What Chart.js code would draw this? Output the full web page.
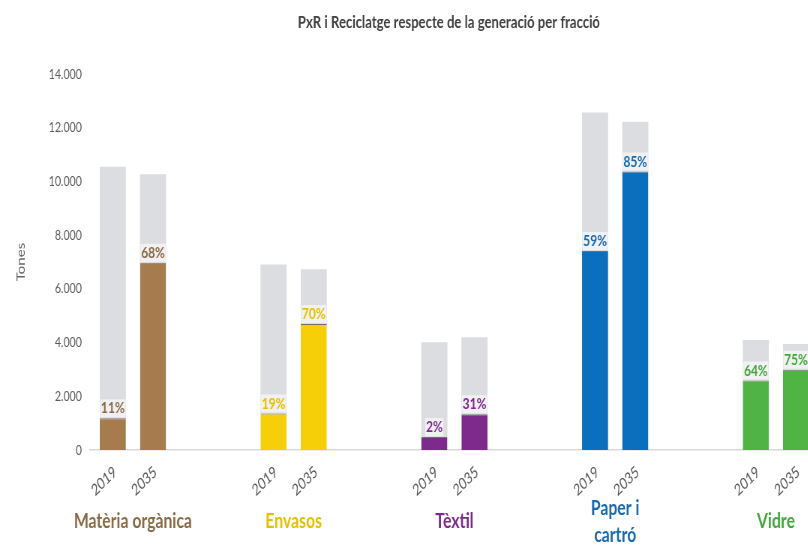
<!DOCTYPE html>
<html>
<head>
<meta charset="utf-8">
<script src="https://cdn.jsdelivr.net/npm/chart.js@4.4.1/dist/chart.umd.min.js"></script>
<style>
  html, body { margin: 0; padding: 0; background: #ffffff; overflow: hidden; width: 808px; height: 550px; }
  /* el gràfic original està comprimit horitzontalment */
  #wrap { width: 1077px; height: 550px; transform: scaleX(0.75); transform-origin: 0 0; }
</style>
</head>
<body>
<div id="wrap"><canvas id="pxrChart" width="1077" height="550"></canvas></div>
<script>
// dades llegides del gràfic (tones)
const categories = ["Matèria orgànica", "Envasos", "Tèxtil", ["Paper i", "cartró"], "Vidre"]
const years = ["2019", "2035"]
const generacio2019 = [10550, 6910, 4010, 12570, 4100]
const reciclatge2019 = [1180, 1360, 480, 7410, 2590]
const generacio2035 = [10270, 6730, 4200, 12220, 3950]
const reciclatge2035 = [6970, 4690, 1330, 10370, 2990]
const pct2019 = [11, 19, 2, 59, 64]
const pct2035 = [68, 70, 31, 85, 75]
const yTicks = [0, 2000, 4000, 6000, 8000, 10000, 12000, 14000]

// colors per fracció
const barColors = ["#a67c4e", "#f7cf08", "#7d2a8c", "#0b6fbd", "#4fb443"]
const labelColors = ["#8a6a44", "#e6c000", "#7d2a8c", "#1769b0", "#43a53b"]
const greyColor = "#dcdde0"
const fontFam = "Lato, 'Open Sans', sans-serif"

function pts(values) {
  return values.map((v, i) => ({ x: i, y: v }))
}

function restOf(total, part) {
  return total.map((v, i) => v - part[i])
}

function fmtMiles(v) {
  return String(v).replace(/\B(?=(\d{3})+(?!\d))/g, ".")
}

// etiquetes d'any i percentatges sobre les barres
const labelsPlugin = {
  id: "pxrLabels",
  afterDatasetsDraw(chart) {
    const ctx = chart.ctx
    const xScale = chart.scales.x
    const pctSets = [pct2019, pct2035]
    ;[0, 2].forEach((dsIndex, k) => {
      const meta = chart.getDatasetMeta(dsIndex)
      meta.data.forEach((bar, i) => {
        // percentatge
        const txt = pctSets[k][i] + "%"
        ctx.save()
        ctx.font = "bold 16px " + fontFam
        ctx.textAlign = "center"
        ctx.textBaseline = "bottom"
        const w = ctx.measureText(txt).width
        ctx.fillStyle = "rgba(255,255,255,0.6)"
        ctx.fillRect(bar.x - w / 2 - 1, bar.y - 19, w + 2, 18)
        ctx.fillStyle = labelColors[i]
        ctx.fillText(txt, bar.x, bar.y - 2)
        ctx.restore()

        // any rotat
        ctx.save()
        ctx.translate(bar.x + 3, xScale.top + 20)
        ctx.rotate(-37 * Math.PI / 180)
        ctx.font = "16px " + fontFam
        ctx.fillStyle = "#595959"
        ctx.textAlign = "right"
        ctx.textBaseline = "middle"
        ctx.fillText(years[k], 0, 0)
        ctx.restore()
      })
    })
  },
}

const ctx = document.getElementById("pxrChart")

new Chart(ctx, {
  type: "bar",
  data: {
    datasets: [
      {
        label: "Reciclatge " + years[0],
        data: pts(reciclatge2019),
        backgroundColor: barColors,
        borderColor: "rgba(50,50,50,0.7)",
        borderWidth: { top: 1 },
        borderSkipped: false,
        stack: years[0],
      },
      {
        label: "Generació " + years[0],
        data: pts(restOf(generacio2019, reciclatge2019)),
        backgroundColor: greyColor,
        stack: years[0],
      },
      {
        label: "Reciclatge " + years[1],
        data: pts(reciclatge2035),
        backgroundColor: barColors,
        borderColor: "rgba(50,50,50,0.7)",
        borderWidth: { top: 1 },
        borderSkipped: false,
        stack: years[1],
      },
      {
        label: "Generació " + years[1],
        data: pts(restOf(generacio2035, reciclatge2035)),
        backgroundColor: greyColor,
        stack: years[1],
      },
    ],
  },
  options: {
    responsive: false,
    animation: false,
    devicePixelRatio: 1,
    categoryPercentage: 0.5,
    barPercentage: 0.65,
    layout: {
      padding: { top: 8, left: 0, right: 0, bottom: 4 },
    },
    plugins: {
      legend: { display: false },
      tooltip: { enabled: false },
      title: {
        display: true,
        fullSize: false,
        text: "PxR i Reciclatge respecte de la generació per fracció",
        color: "#404040",
        font: { family: fontFam, size: 17.5, weight: "bold" },
        padding: { top: 4, bottom: 41 },
      },
    },
    scales: {
      x: {
        type: "linear",
        stacked: true,
        offset: false,
        min: -0.267,
        max: 4.198,
        afterBuildTicks: (scale) => {
          scale.ticks = categories.map((_, i) => ({ value: i }))
        },
        afterFit: (scale) => {
          scale.height = 96
          scale.paddingLeft = 0
          scale.paddingRight = 0
        },
        grid: { display: false, drawTicks: false },
        border: { display: true, color: "#d9d9d9", width: 1.5 },
        ticks: {
          padding: 58,
          autoSkip: false,
          maxRotation: 0,
          crossAlign: "center",
          callback: (v) => categories[v],
          color: (c) => labelColors[c.index],
          font: { family: fontFam, size: 21, weight: "bold", lineHeight: 1.3 },
        },
      },
      y: {
        stacked: true,
        min: 0,
        max: 14000,
        afterBuildTicks: (scale) => {
          scale.ticks = yTicks.map((v) => ({ value: v }))
        },
        afterFit: (scale) => {
          scale.width = 120
        },
        grid: { display: false, drawTicks: false },
        border: { display: false },
        title: {
          display: true,
          text: "Tones",
          color: "#666666",
          font: { family: fontFam, size: 15 },
          padding: { top: 19, bottom: 4 },
        },
        ticks: {
          padding: 11,
          color: "#595959",
          font: { family: fontFam, size: 14 },
          callback: (v) => fmtMiles(v),
        },
      },
    },
  },
  plugins: [labelsPlugin],
})
</script>
</body>
</html>
